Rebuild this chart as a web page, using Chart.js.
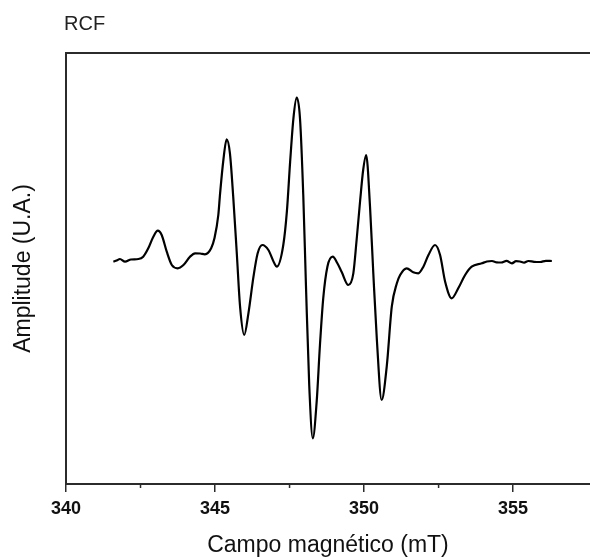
<!DOCTYPE html>
<html>
<head>
<meta charset="utf-8">
<script src="https://cdn.jsdelivr.net/npm/chart.js@4"></script>
<style>
html,body{margin:0;padding:0;background:#fff;}
#wrap{width:590px;height:557px;position:relative;}
</style>
</head>
<body>
<div id="wrap"><canvas id="esr"></canvas></div>
<script>
// magnetic field (mT) and signal amplitude (arbitrary units)
const fieldMT=[341.59,341.70,341.81,341.98,342.18,342.43,342.59,342.76,342.93,343.08,343.21,343.38,343.55,343.75,343.94,344.16,344.33,344.50,344.66,344.87,344.98,345.11,345.17,345.28,345.39,345.50,345.61,345.73,345.84,345.98,346.12,346.29,346.43,346.59,346.79,346.99,347.07,347.29,347.41,347.52,347.63,347.74,347.85,347.96,348.05,348.16,348.28,348.41,348.52,348.63,348.77,348.95,349.10,349.25,349.47,349.64,349.75,349.87,349.97,350.07,350.20,350.31,350.43,350.59,350.76,350.93,351.10,351.21,351.43,351.65,351.82,351.99,352.16,352.38,352.55,352.72,352.94,353.16,353.39,353.61,353.95,354.12,354.29,354.45,354.60,354.78,354.96,355.10,355.23,355.37,355.51,355.70,355.91,356.10,356.30];
const amplitude=[0.3,1.5,3,0.3,2.5,3,5.3,13.7,25.3,31.3,27,10.3,-3,-6.3,-3,5.3,8.7,8.5,7.7,13.7,23.7,47,68.7,102,122.7,108.7,65.3,8.7,-44.7,-73,-51.3,-14.7,8.7,17,12,-1.3,-4.7,17,50.3,100.3,143.7,164.3,143.7,67,-23,-123,-176.3,-139.7,-83,-36.3,-4.7,5.3,-1,-10,-23,-11.3,22,62,92,107,55.3,-11.3,-78,-138,-104.7,-44.7,-21.3,-13,-6.3,-10.3,-11.3,-4.7,7,17,7,-19.7,-36.3,-26.3,-13,-4.7,-1.3,0.5,1,-0.3,-0.5,1.2,-1.3,0.8,0.5,-0.6,1,0.2,0,1.2,1];

const majorTicks=[340,345,350,355];
const minorTicks=[342.5,347.5,352.5];
const xRange=[340,357.58];
const yRange=[-222,209];

const frameColor="#2b2b2b";
const fontFamily="'Liberation Sans', Arial, sans-serif";

const frame={
 id:"frame",
 afterDraw(c){
  const a=c.chartArea,ctx=c.ctx,xs=c.scales.x;
  ctx.save();
  ctx.strokeStyle=frameColor;ctx.lineWidth=2;
  ctx.beginPath();ctx.moveTo(a.left-1,a.top);ctx.lineTo(a.right,a.top);ctx.stroke();
  ctx.lineWidth=1.5;
  minorTicks.forEach(v=>{
   const px=xs.getPixelForValue(v);
   ctx.beginPath();ctx.moveTo(px,a.bottom);ctx.lineTo(px,a.bottom+4);ctx.stroke();
  });
  ctx.fillStyle="#222";
  ctx.font="20px "+fontFamily;
  ctx.textBaseline="alphabetic";
  ctx.fillText("RCF",a.left-2,30);
  ctx.restore();
 }
};

new Chart(document.getElementById("esr"),{
 type:"line",
 data:{datasets:[{
  data:fieldMT.map((x,i)=>({x,y:amplitude[i]})),
  borderColor:"#000",borderWidth:2.2,pointRadius:0,
  cubicInterpolationMode:"monotone",fill:false
 }]},
 options:{
  responsive:true,maintainAspectRatio:false,animation:false,
  layout:{padding:{top:53,right:0,left:0,bottom:0}},
  plugins:{legend:{display:false},tooltip:{enabled:false}},
  scales:{
   x:{
    type:"linear",min:xRange[0],max:xRange[1],
    afterBuildTicks:ax=>{ax.ticks=majorTicks.map(v=>({value:v}));},
    afterFit:ax=>{ax.height=73;},
    grid:{drawOnChartArea:false,tickLength:8,color:frameColor,lineWidth:1.5},
    border:{display:true,color:frameColor,width:2},
    ticks:{color:"#111",padding:6,font:{family:fontFamily,size:18,weight:"bold"}},
    title:{display:true,text:"Campo magnético (mT)",color:"#111",padding:{top:0,bottom:0},
     font:{family:fontFamily,size:23,lineHeight:1}}
   },
   y:{
    min:yRange[0],max:yRange[1],
    afterFit:ax=>{ax.width=66;},
    grid:{display:false},
    border:{display:true,color:frameColor,width:2},
    ticks:{display:false},
    title:{display:true,text:"Amplitude (U.A.)",color:"#111",padding:{top:12,bottom:0},
     font:{family:fontFamily,size:23,lineHeight:1}}
   }
  }
 },
 plugins:[frame]
});
</script>
</body>
</html>
